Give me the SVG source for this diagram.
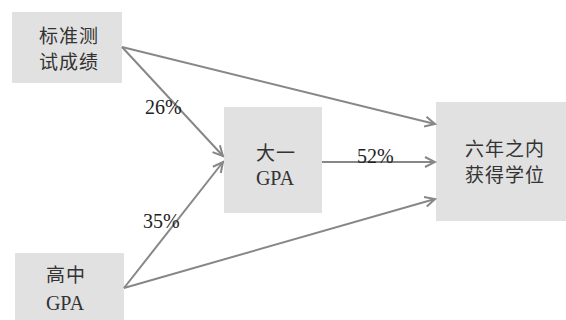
<svg xmlns="http://www.w3.org/2000/svg" width="566" height="320" viewBox="0 0 566 320">
<style>
.box{fill:#e1e1e1;}
.t{font-family:"Noto Sans CJK SC",sans-serif;font-size:19px;fill:#333;text-anchor:middle;letter-spacing:1px;}
.g{font-family:"Liberation Serif","DejaVu Serif","Times New Roman",serif;font-size:20px;fill:#333;text-anchor:middle;}
.p{font-family:"Liberation Serif","DejaVu Serif","Times New Roman",serif;font-size:20px;fill:#222;}
.c{stroke:#878787;stroke-width:2;fill:none;marker-end:url(#ah);}
</style>
<defs>
<marker id="ah" markerUnits="userSpaceOnUse" markerWidth="14" markerHeight="14" viewBox="0 0 14 14" refX="12" refY="7" orient="auto">
<path d="M2,2 L12,7 L2,12" fill="none" stroke="#878787" stroke-width="2"/>
</marker>
</defs>
<rect width="566" height="320" fill="#fff"/>
<g id="n1"><rect class="box" x="12" y="12" width="110" height="71"/>
<text class="t" x="69" y="43">标准测</text><text class="t" x="69" y="69">试成绩</text></g>
<g id="n2"><rect class="box" x="15" y="253" width="109" height="70"/>
<text class="t" x="66" y="282">高中</text><text class="g" x="65" y="310">GPA</text></g>
<g id="n3"><rect class="box" x="224" y="107" width="98" height="106"/>
<text class="t" x="276" y="160">大一</text><text class="g" x="275" y="185">GPA</text></g>
<g id="n4"><rect class="box" x="436" y="102" width="130" height="119"/>
<text class="t" x="505" y="156">六年之内</text><text class="t" x="505" y="182">获得学位</text></g>
<g id="connectors">
<line class="c" x1="122" y1="47" x2="223" y2="156"/>
<line class="c" x1="122" y1="47" x2="435" y2="124"/>
<line class="c" x1="124" y1="288" x2="223" y2="162"/>
<line class="c" x1="124" y1="288" x2="435" y2="199"/>
<line class="c" x1="322" y1="162" x2="435" y2="162"/>
<text class="p" x="145" y="114">26%</text>
<text class="p" x="143" y="228">35%</text>
<text class="p" x="357" y="163">52%</text>
</g>
</svg>
